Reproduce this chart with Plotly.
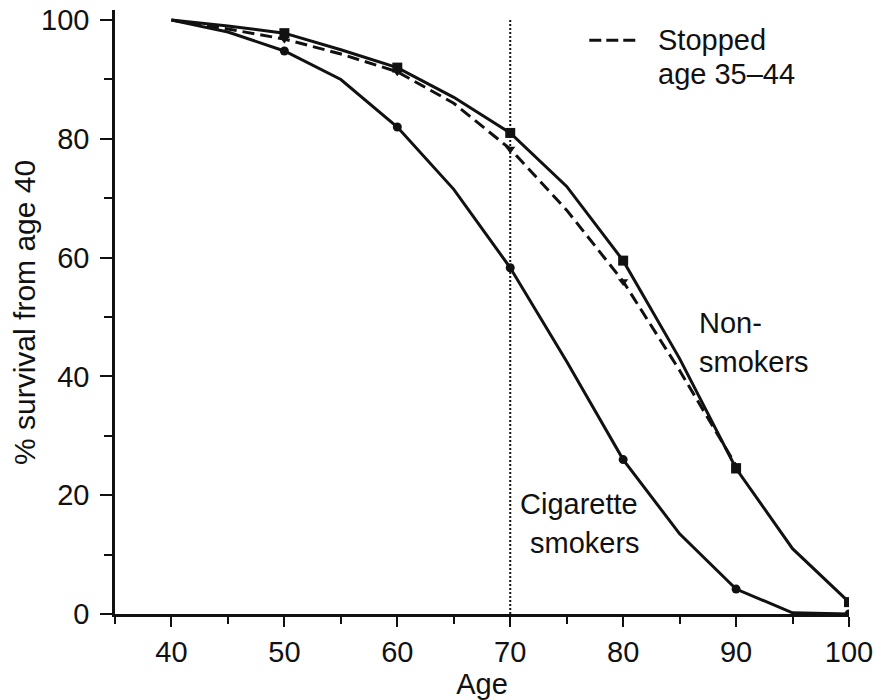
import plotly.graph_objects as go

# ---- data ----
age_non = [40, 45, 50, 55, 60, 65, 70, 75, 80, 85, 90, 95, 100]
surv_non = [100, 99, 97.8, 95, 92, 87, 81, 72, 59.5, 43, 24.5, 11, 2]
marker_age_non = [50, 60, 70, 80, 90, 100]
marker_surv_non = [97.8, 92, 81, 59.5, 24.5, 2]

age_smk = [40, 45, 50, 55, 60, 65, 70, 75, 80, 85, 90, 95, 100]
surv_smk = [100, 98, 94.8, 90, 82, 71.5, 58.3, 42.5, 26, 13.5, 4.2, 0.2, 0]
marker_age_smk = [50, 60, 70, 80, 90, 100]
marker_surv_smk = [94.8, 82, 58.3, 26, 4.2, 0]

age_stop = [40, 45, 50, 55, 60, 65, 70, 75, 80, 85, 90]
surv_stop = [100, 98.5, 96.8, 94.3, 91.3, 86, 78.3, 68, 56, 41, 25]
marker_age_stop = [50, 60, 70, 80, 90]
marker_surv_stop = [96.8, 91.3, 78.3, 56, 25]

cutoff_age = [70, 70]
cutoff_surv = [0, 100]

x_ticks = [40, 50, 60, 70, 80, 90, 100]
y_ticks = [0, 20, 40, 60, 80, 100]

FONT = "Liberation Sans, Arial, Helvetica, sans-serif"
INK = "#111111"
FS = 29

fig = go.Figure()

# vertical dotted reference at age 70
fig.add_trace(go.Scatter(x=cutoff_age, y=cutoff_surv, mode="lines",
                         line=dict(color=INK, width=2, dash="2px,2px"),
                         showlegend=False, hoverinfo="skip"))

# non-smokers
fig.add_trace(go.Scatter(x=age_non, y=surv_non, mode="lines",
                         line=dict(color=INK, width=3), showlegend=False))
fig.add_trace(go.Scatter(x=marker_age_non, y=marker_surv_non, mode="markers",
                         marker=dict(symbol="square", size=10, color=INK),
                         showlegend=False))

# stopped 35-44
fig.add_trace(go.Scatter(x=age_stop, y=surv_stop, mode="lines",
                         line=dict(color=INK, width=3, dash="12px,6px"), showlegend=False))
fig.add_trace(go.Scatter(x=marker_age_stop, y=marker_surv_stop, mode="markers",
                         marker=dict(symbol="triangle-down", size=9, color=INK),
                         showlegend=False))

# cigarette smokers
fig.add_trace(go.Scatter(x=age_smk, y=surv_smk, mode="lines",
                         line=dict(color=INK, width=3), showlegend=False))
fig.add_trace(go.Scatter(x=marker_age_smk, y=marker_surv_smk, mode="markers",
                         marker=dict(symbol="circle", size=9, color=INK),
                         showlegend=False))

# legend sample (dashed) and labels
fig.add_shape(type="line", x0=77.0, x1=81.4, y0=96.6, y1=96.6, xref="x", yref="y",
              line=dict(color=INK, width=3, dash="12px,5px"))
fig.add_annotation(x=82.9, y=96.6, text="Stopped", showarrow=False,
                   xanchor="left", yanchor="middle", font=dict(size=FS, color=INK, family=FONT))
fig.add_annotation(x=82.9, y=90.9, text="age 35–44", showarrow=False,
                   xanchor="left", yanchor="middle", font=dict(size=FS, color=INK, family=FONT))

fig.add_annotation(x=86.55, y=49.0, text="Non-", showarrow=False,
                   xanchor="left", yanchor="middle", font=dict(size=FS, color=INK, family=FONT))
fig.add_annotation(x=86.55, y=42.4, text="smokers", showarrow=False,
                   xanchor="left", yanchor="middle", font=dict(size=FS, color=INK, family=FONT))
fig.add_annotation(x=76.1, y=18.5, text="Cigarette", showarrow=False,
                   xanchor="center", yanchor="middle", font=dict(size=FS, color=INK, family=FONT))
fig.add_annotation(x=76.6, y=12.0, text="smokers", showarrow=False,
                   xanchor="center", yanchor="middle", font=dict(size=FS, color=INK, family=FONT))

# y-axis title placed as rotated text left of the tick labels
fig.add_annotation(xref="paper", yref="paper", x=-0.124, y=0.5, text="% survival from age 40",
                   textangle=-90, showarrow=False, xanchor="center", yanchor="middle",
                   font=dict(size=30, color=INK, family=FONT))

fig.update_layout(
    width=875, height=700,
    margin=dict(l=115, r=26, t=10, b=86),
    paper_bgcolor="white", plot_bgcolor="white",
    font=dict(family=FONT, size=FS, color=INK),
    showlegend=False,
)
fig.update_xaxes(
    range=[35, 100], tickvals=x_ticks, ticktext=[str(v) for v in x_ticks],
    ticks="outside", ticklen=10, tickwidth=2, tickcolor=INK, automargin=False,
    ticklabeloverflow="allow",
    showline=True, linecolor=INK, linewidth=2.5, showgrid=False, zeroline=False,
    minor=dict(dtick=5, tick0=35, ticks="outside", ticklen=7, tickwidth=2, tickcolor=INK, showgrid=False),
    title=dict(text="Age", standoff=9, font=dict(size=FS, color=INK, family=FONT)),
    tickfont=dict(size=FS, color=INK, family=FONT),
)
fig.update_yaxes(
    range=[0, 101.7], tickvals=y_ticks, ticktext=[str(v) for v in y_ticks],
    ticks="outside", ticklen=12, tickwidth=2, tickcolor=INK, automargin=False,
    ticklabeloverflow="allow", ticklabelstandoff=5,
    showline=True, linecolor=INK, linewidth=2.5, showgrid=False, zeroline=False,
    minor=dict(dtick=10, tick0=0, ticks="outside", ticklen=8, tickwidth=2, tickcolor=INK, showgrid=False),
    tickfont=dict(size=FS, color=INK, family=FONT),
)

fig.write_html("out.html", config={"displayModeBar": False},
               post_script="document.body.style.margin='0px';")
